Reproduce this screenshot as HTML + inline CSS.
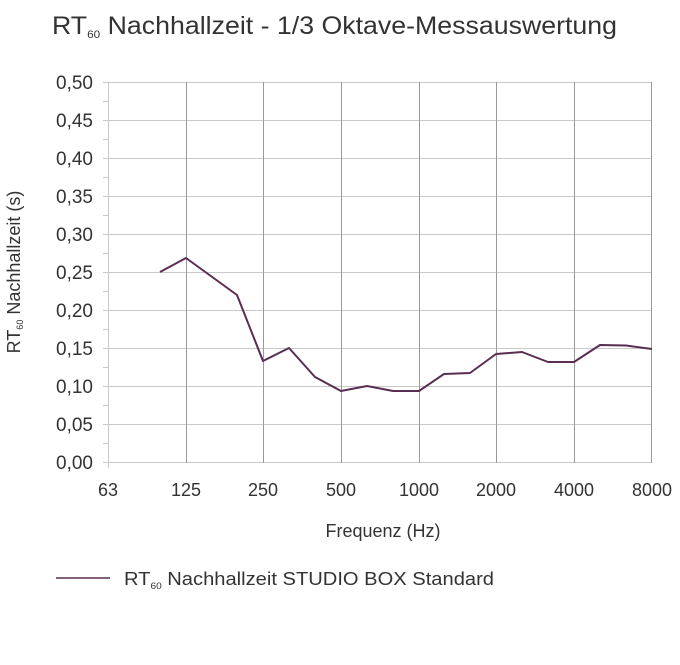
<!DOCTYPE html>
<html><head><meta charset="utf-8"><style>body{margin:0;background:#fff}svg{display:block}text{font-family:"Liberation Sans",sans-serif;fill:#333}</style></head>
<body>
<svg width="680" height="665" viewBox="0 0 680 665">
<text x="52" y="34" font-size="25" textLength="565" lengthAdjust="spacingAndGlyphs">RT<tspan font-size="11" dy="4">60</tspan><tspan dy="-4"> Nachhallzeit  - 1/3 Oktave-Messauswertung</tspan></text>
<g stroke="#c8c8c8" stroke-width="1">
<line x1="108" y1="82.5" x2="652" y2="82.5"/><line x1="108" y1="120.5" x2="652" y2="120.5"/><line x1="108" y1="158.5" x2="652" y2="158.5"/><line x1="108" y1="196.5" x2="652" y2="196.5"/><line x1="108" y1="234.5" x2="652" y2="234.5"/><line x1="108" y1="272.5" x2="652" y2="272.5"/><line x1="108" y1="310.5" x2="652" y2="310.5"/><line x1="108" y1="348.5" x2="652" y2="348.5"/><line x1="108" y1="386.5" x2="652" y2="386.5"/><line x1="108" y1="424.5" x2="652" y2="424.5"/><line x1="108" y1="462.5" x2="652" y2="462.5"/>
</g>
<g stroke="#9a9a9a" stroke-width="1">
<line x1="186.5" y1="82" x2="186.5" y2="463"/><line x1="263.5" y1="82" x2="263.5" y2="463"/><line x1="341.5" y1="82" x2="341.5" y2="463"/><line x1="419.5" y1="82" x2="419.5" y2="463"/><line x1="496.5" y1="82" x2="496.5" y2="463"/><line x1="574.5" y1="82" x2="574.5" y2="463"/><line x1="651.5" y1="82" x2="651.5" y2="463"/>
</g>
<g stroke="#c8c8c8"><line x1="108.5" y1="82" x2="108.5" y2="468"/>
<line x1="103" y1="82.5" x2="108" y2="82.5"/><line x1="103" y1="101.5" x2="108" y2="101.5"/><line x1="103" y1="120.5" x2="108" y2="120.5"/><line x1="103" y1="139.5" x2="108" y2="139.5"/><line x1="103" y1="158.5" x2="108" y2="158.5"/><line x1="103" y1="177.5" x2="108" y2="177.5"/><line x1="103" y1="196.5" x2="108" y2="196.5"/><line x1="103" y1="215.5" x2="108" y2="215.5"/><line x1="103" y1="234.5" x2="108" y2="234.5"/><line x1="103" y1="253.5" x2="108" y2="253.5"/><line x1="103" y1="272.5" x2="108" y2="272.5"/><line x1="103" y1="291.5" x2="108" y2="291.5"/><line x1="103" y1="310.5" x2="108" y2="310.5"/><line x1="103" y1="329.5" x2="108" y2="329.5"/><line x1="103" y1="348.5" x2="108" y2="348.5"/><line x1="103" y1="367.5" x2="108" y2="367.5"/><line x1="103" y1="386.5" x2="108" y2="386.5"/><line x1="103" y1="405.5" x2="108" y2="405.5"/><line x1="103" y1="424.5" x2="108" y2="424.5"/><line x1="103" y1="443.5" x2="108" y2="443.5"/><line x1="103" y1="462.5" x2="108" y2="462.5"/></g>
<g font-size="19" text-anchor="end">
<text x="93" y="89">0,50</text><text x="93" y="127">0,45</text><text x="93" y="165">0,40</text><text x="93" y="203">0,35</text><text x="93" y="241">0,30</text><text x="93" y="279">0,25</text><text x="93" y="317">0,20</text><text x="93" y="355">0,15</text><text x="93" y="393">0,10</text><text x="93" y="431">0,05</text><text x="93" y="469">0,00</text>
</g>
<g font-size="18" text-anchor="middle">
<text x="108" y="496">63</text><text x="186" y="496">125</text><text x="263" y="496">250</text><text x="341" y="496">500</text><text x="419" y="496">1000</text><text x="496" y="496">2000</text><text x="574" y="496">4000</text><text x="652" y="496">8000</text>
</g>
<text x="383" y="537" font-size="18" text-anchor="middle">Frequenz (Hz)</text>
<text transform="translate(20,272) rotate(-90)" font-size="18" text-anchor="middle">RT<tspan font-size="9" dy="3">60</tspan><tspan dy="-3"> Nachhallzeit (s)</tspan></text>
<polyline fill="none" stroke="#5a2d52" stroke-width="2" stroke-linejoin="round" points="160,272 186,258 237,295 263,361 289,348 315,377 341,391 367,386 393,391 419,391 444,374 470,373 496,354 522,352 548,362 574,362 600,345 626,345.5 652,349"/>
<line x1="56" y1="578" x2="110" y2="578" stroke="#5a2d52" stroke-width="1.5"/>
<text x="124" y="585" font-size="18" textLength="370" lengthAdjust="spacingAndGlyphs">RT<tspan font-size="9" dy="4">60</tspan><tspan dy="-4"> Nachhallzeit STUDIO BOX Standard</tspan></text>
</svg>
</body></html>
